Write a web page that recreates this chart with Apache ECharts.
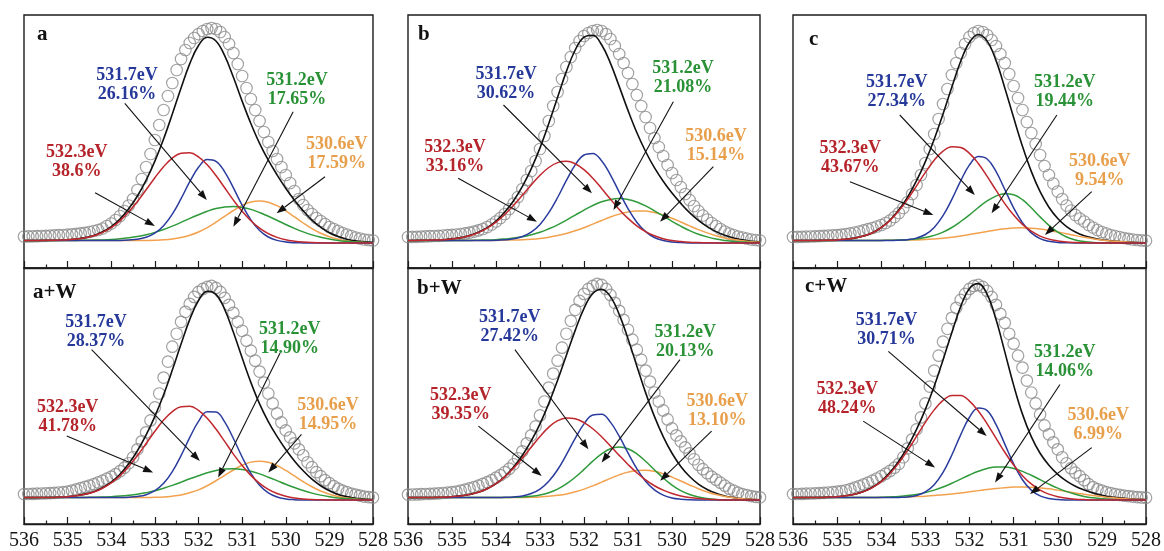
<!DOCTYPE html>
<html>
<head>
<meta charset="utf-8">
<title>O 1s XPS fits</title>
<script src="https://cdn.jsdelivr.net/npm/echarts@6/dist/echarts.min.js"></script>
<style>
  html, body { margin: 0; padding: 0; background: #ffffff; }
  #chart { width: 1164px; height: 551px; }
</style>
</head>
<body>
<div id="chart"></div>
<script>
// ---- binding-energy sampling (eV) ----
const scanEnergy = [
  536,535.9,535.8,535.7,535.6,535.5,535.4,535.3,535.2,535.1,
  535,534.9,534.8,534.7,534.6,534.5,534.4,534.3,534.2,534.1,
  534,533.9,533.8,533.7,533.6,533.5,533.4,533.3,533.2,533.1,
  533,532.9,532.8,532.7,532.6,532.5,532.4,532.3,532.2,532.1,
  532,531.9,531.8,531.7,531.6,531.5,531.4,531.3,531.2,531.1,
  531,530.9,530.8,530.7,530.6,530.5,530.4,530.3,530.2,530.1,
  530,529.9,529.8,529.7,529.6,529.5,529.4,529.3,529.2,529.1,
  529,528.9,528.8,528.7,528.6,528.5,528.4,528.3,528.2,528.1,
  528
];
const fitEnergy = [
  536,535.8,535.6,535.4,535.2,535,534.8,534.6,534.4,534.2,
  534,533.8,533.6,533.4,533.2,533,532.8,532.6,532.4,532.2,
  532,531.8,531.6,531.4,531.2,531,530.8,530.6,530.4,530.2,
  530,529.8,529.6,529.4,529.2,529,528.8,528.6,528.4,528.2,
  528
];
// Shirley-type background under the fitted components
const shirleyBg = [2.5,2.5,2.5,2.5,2.5,2.5,2.5,2.5,2.5,2.5,2.5,2.5,2.5,2.4,2.3,2.2,2.1,1.9,1.7,1.5,1.2,1.0,0.8,0.6,0.4,0.3,0.2,0.1,0,0,0,0,0,0,0,0,0,0,0,0,0];

// ---- sample a ----
const scanA = [6.5,6.6,6.7,6.8,7.0,7.2,7.4,7.6,7.8,8.0,8.3,8.7,9.1,9.6,10.2,11,12,13,14.5,17,19.5,23,27,32,37.5,44,53,64,76,89,103,118,133,147,160,173,184,193,200,205,209,212,214,215,214,211,206,199,190,179,167,155,144,133,122,111,101,92,84,76,68,60,52,44,38,33,29,25,22,19,16,14,12,10,8.5,7,5.5,4.5,3.5,3,2.5];
const peak5323A = [0,0,0.1,0.2,0.4,0.7,1.4,2.7,4.7,8.1,12.9,19.6,28.5,39.1,50.9,63.1,74.2,83.0,88.0,88.7,84.9,77.2,66.7,54.6,42.5,31.4,22.1,14.7,9.3,5.6,3.2,1.8,0.9,0.4,0.2,0,0,0,0,0,0];
const peak5317A = [0,0,0,0,0,0,0,0,0,0,0,0.1,0.5,1.3,3.4,7.6,15.2,27.0,42.6,59.8,74.5,82.4,80.9,70.6,54.7,37.6,23.0,12.4,6.0,2.6,1.0,0.3,0.1,0,0,0,0,0,0,0,0];
const peak5312A = [0,0,0,0,0,0,0.1,0.2,0.4,0.6,1.0,1.7,2.7,4.1,6.0,8.4,11.4,15.0,18.9,23.1,27.1,30.7,33.6,35.4,36.0,35.3,33.4,30.4,26.7,22.7,18.5,14.6,11.1,8.1,5.8,3.9,2.6,1.7,1.0,0.6,0.3];
const peak5306A = [0,0,0,0,0,0,0,0,0,0,0,0,0,0.1,0.3,0.6,1.1,2.1,3.8,6.3,9.8,14.4,20.0,26.1,32.1,37.3,40.8,42.0,40.8,37.3,32.1,26.1,20.0,14.4,9.8,6.3,3.8,2.1,1.1,0.6,0.3];
const shareA = ['38.6%','26.16%','17.65%','17.59%'];

// ---- sample b ----
const scanB = [6.0,6.1,6.2,6.4,6.6,6.8,7.0,7.2,7.5,7.8,8.1,8.5,9.0,9.6,10.4,11.4,12.6,14,16,18.5,21.5,25,29,34,39.5,46,54,63,72,82,94,107,122,137,151,164,176,186,195,202,207,210,212,213,212,209,204,197,189,180,170,159,148,137,126,115,105,96,87,78,70,63,56,49,43,37,32,27.5,23.5,20,17,14,11.5,9.5,8,6.5,5.5,4.5,3.5,3,2.5];
const peak5323B = [0,0.1,0.2,0.4,0.8,1.6,2.8,4.8,7.9,12.3,18.3,26.0,35.2,45.4,55.8,65.6,73.4,78.5,80.0,77.8,72.1,63.8,53.8,43.3,33.2,24.3,17.0,11.3,7.2,4.3,2.5,1.4,0.7,0.4,0.2,0.1,0,0,0,0,0];
const peak5317B = [0,0,0,0,0,0,0,0,0,0,0.2,0.7,1.7,4.1,8.6,16.4,28.2,43.6,60.9,76.6,86.8,88.6,81.5,67.6,50.5,34.0,20.6,11.3,5.5,2.5,1.0,0.4,0.1,0,0,0,0,0,0,0,0];
const peak5312B = [0,0,0,0,0,0,0.1,0.1,0.3,0.5,0.8,1.5,2.4,3.8,5.9,8.5,12.1,16.3,21.2,26.4,31.7,36.5,40.4,43.0,44.0,43.2,40.8,37.0,32.2,27.0,21.7,16.8,12.4,8.8,6.1,4.0,2.6,1.5,0.9,0.5,0.3];
const peak5306B = [0,0,0,0,0,0,0,0,0,0,0.1,0.3,0.5,0.9,1.5,2.4,3.7,5.5,7.8,10.7,14.1,17.9,21.7,25.4,28.5,30.8,31.9,31.8,30.4,27.9,24.7,21.0,17.1,13.4,10.1,7.3,5.1,3.4,2.2,1.3,0.8];
const shareB = ['33.16%','30.62%','21.08%','15.14%'];

// ---- sample c ----
const scanC = [6.0,6.1,6.2,6.3,6.5,6.7,6.9,7.1,7.3,7.6,7.9,8.4,9.0,9.7,10.5,11.5,12.6,13.8,15,16.5,18,20,22.5,26,30,35,41,49,58,68,80,94,109,124,139,154,168,180,190,199,206,210,212,211,208,203,197,189,180,169,157,145,133,121,110,99,88,77,68,59.5,51.5,44,37.5,32.5,28,24.5,21.5,18,15.5,13,11,9.5,8,7,6,5,4.2,3.5,3,2.6,2.3];
const peak5323C = [0,0,0,0.1,0.3,0.6,1.2,2.4,4.5,7.8,12.8,20.1,29.7,41.5,54.9,68.4,80.7,89.9,94.5,94.0,88.4,78.5,65.8,52.2,39.0,27.6,18.4,11.7,6.9,3.9,2.1,1.0,0.5,0.2,0.1,0,0,0,0,0,0];
const peak5317C = [0,0,0,0,0,0,0,0,0,0,0,0,0.3,0.9,2.6,6.3,13.5,25.4,41.9,60.6,76.9,85.5,83.2,71.0,53.1,34.8,20.0,10.0,4.4,1.7,0.6,0.2,0,0,0,0,0,0,0,0,0];
const peak5312C = [0,0,0,0,0,0,0,0,0,0,0.1,0.2,0.4,0.9,1.7,3.2,5.5,9.0,13.8,20.0,27.0,34.5,41.3,46.3,48.8,48.0,43.1,35.1,26.1,17.6,10.8,6.0,3.1,1.4,0.6,0.2,0.1,0,0,0,0];
const peak5306C = [0,0,0,0,0,0,0,0,0,0,0.1,0.2,0.3,0.5,0.8,1.3,2.0,2.9,4.1,5.6,7.2,9.0,10.8,12.5,13.8,14.7,15.0,14.7,13.9,12.6,11.0,9.2,7.4,5.7,4.2,3.0,2.1,1.4,0.9,0.5,0.3];
const shareC = ['43.67%','27.34%','19.44%','9.54%'];

// ---- sample a+W ----
const scanAW = [6.0,6.1,6.2,6.4,6.6,6.8,7.0,7.3,7.6,8.0,8.5,9.5,10.7,12,13.2,14.5,16,17.7,19.5,21.5,23.5,26,29,32.5,37,43,51,59,68,80,93,107,123,139,154,167,179,189,197,204,209,212,214,215,213,209,203,196,188,179,170,160,150,140,129,118,107,97,87,78,70,63,57,51,45,38,33,28,24,20,17,14,11.5,9.5,8,6.5,5.5,4.5,3.5,3,2.5];
const peak5323AW = [0,0,0.1,0.2,0.5,0.9,1.8,3.3,5.7,9.4,14.7,21.9,31.2,42.3,54.5,66.9,78.2,87.0,92.1,92.7,88.9,81.2,70.5,58.3,45.8,34.4,24.6,16.6,10.7,6.6,3.9,2.1,1.1,0.6,0.3,0.1,0,0,0,0,0];
const peak5317AW = [0,0,0,0,0,0,0,0,0,0,0,0.1,0.4,1.2,3.1,7.2,14.7,26.7,43.0,61.4,77.9,87.7,87.7,77.9,61.4,43.0,26.7,14.7,7.2,3.1,1.2,0.4,0.1,0,0,0,0,0,0,0,0];
const peak5312AW = [0,0,0,0,0,0,0.1,0.2,0.3,0.5,0.9,1.5,2.3,3.5,5.2,7.2,9.8,12.9,16.3,19.9,23.3,26.4,28.9,30.5,31.0,30.4,28.8,26.2,23.0,19.5,15.9,12.6,9.6,7.0,5.0,3.4,2.2,1.5,0.9,0.5,0.3];
const peak5306AW = [0,0,0,0,0,0,0,0,0,0,0,0,0,0.1,0.3,0.6,1.0,2.0,3.5,5.9,9.1,13.4,18.6,24.2,29.8,34.7,37.9,39.0,37.9,34.7,29.8,24.2,18.6,13.4,9.1,5.9,3.5,2.0,1.0,0.6,0.3];
const shareAW = ['41.78%','28.37%','14.90%','14.95%'];

// ---- sample b+W ----
const scanBW = [5.5,5.6,5.7,5.9,6.1,6.3,6.5,6.8,7.1,7.5,8.0,8.6,9.5,10.5,11.7,13,14.5,16.2,18,20,22.5,25,28,31.5,36,42,49,57,65,74,85,99,113,127,140,153,167,180,191,200,207,212,215,217,216,212,206,198,190,181,171,161,151,141,130,119,108,99,90,81,72,65,59,53,47,41,35.5,31,27,23.5,20.5,17.5,14.5,11.5,9.5,7.5,6,5,4,3.3,2.8];
const peak5323BW = [0,0,0.1,0.2,0.4,0.9,1.7,3.1,5.3,8.9,14.0,20.8,29.6,39.8,50.8,61.6,71.1,77.8,80.8,80.2,76.6,70.6,62.8,53.8,44.5,35.5,27.2,20.2,14.4,10.0,6.6,4.2,2.6,1.5,0.9,0.5,0.2,0.1,0,0,0];
const peak5317BW = [0,0,0,0,0,0,0,0,0,0,0,0.3,0.7,1.8,4.3,8.9,16.9,28.6,43.9,60.5,75.3,84.4,85.3,77.7,63.7,47.1,31.4,18.8,10.2,5.0,2.2,0.9,0.3,0.1,0,0,0,0,0,0,0];
const peak5312BW = [0,0,0,0,0,0,0,0,0,0,0,0.1,0.3,0.7,1.5,2.9,5.3,9.1,14.5,21.4,29.6,38.1,45.6,51.0,53.0,51.3,46.3,38.9,30.5,22.2,15.1,9.5,5.6,3.1,1.6,0.7,0.3,0.1,0,0,0];
const peak5306BW = [0,0,0,0,0,0,0,0,0,0,0,0,0.1,0.3,0.5,1.0,1.7,2.9,4.5,6.8,9.8,13.3,17.2,21.2,24.9,27.8,29.6,29.9,28.9,26.5,23.1,19.2,15.2,11.4,8.2,5.6,3.6,2.3,1.3,0.8,0.4];
const shareBW = ['39.35%','27.42%','20.13%','13.10%'];

// ---- sample c+W ----
const scanCW = [6.0,6.1,6.2,6.4,6.6,6.8,7.0,7.3,7.6,8.0,8.5,9.1,9.9,11,12.5,14,15.7,17.5,19.5,21.7,24,26.5,29.3,32.5,36.5,43,52,61,71,83,97,114,130,145,159,172,183,193,201,207,212,215,216,214,210,204,196,187,178,167,157,145,133,120,108,97,86,75,66,58,51,43,37,32,27.5,24,20,16,13,11,9.5,8,7,6,5.2,4.5,4,3.5,3,2.7,2.4];
const peak5323CW = [0,0,0.1,0.2,0.5,0.9,1.8,3.4,6.0,10.1,16.1,24.3,34.9,47.6,61.7,75.8,88.5,98.2,103.4,103.4,98.2,88.5,75.8,61.7,47.6,34.9,24.3,16.1,10.1,6.0,3.4,1.8,0.9,0.5,0.2,0.1,0,0,0,0,0];
const peak5317CW = [0,0,0,0,0,0,0,0,0,0,0,0,0.2,0.8,2.4,6.1,13.4,25.9,43.6,64.0,82.0,91.4,89.0,75.4,55.8,36.0,20.2,9.9,4.2,1.6,0.5,0.1,0,0,0,0,0,0,0,0,0];
const peak5312CW = [0,0,0,0,0,0,0,0,0.1,0.2,0.3,0.7,1.2,2.1,3.4,5.3,7.9,11.3,15.2,19.6,24.0,27.9,31.0,32.7,32.9,31.4,28.6,24.8,20.5,16.1,12.0,8.5,5.8,3.7,2.3,1.3,0.7,0.4,0.2,0.1,0];
const peak5306CW = [0,0,0,0,0,0,0,0,0,0.1,0.2,0.3,0.5,0.8,1.2,1.7,2.4,3.4,4.4,5.7,7.1,8.5,9.9,11.1,12.1,12.8,13.0,12.8,12.2,11.3,10.0,8.7,7.2,5.9,4.6,3.5,2.5,1.8,1.2,0.8,0.5];
const shareCW = ['48.24%','30.71%','14.06%','6.99%'];

// component names, in the order 532.3 / 531.7 / 531.2 / 530.6 eV
const peakLabels = ['532.3eV','531.7eV','531.2eV','530.6eV'];
const panelTitles = ['a','b','c','a+W','b+W','c+W'];

// ---- styling ----
const SERIF = '"Liberation Serif","Times New Roman",Times,serif';
const FRAME = '#1c1c1c';
const LINE_COLORS = ['#c0282e', '#2a3c9e', '#2f9a3a', '#f2a24e'];
const TEXT_COLORS = ['#b5242a', '#26399a', '#2a9236', '#e89f4c'];

const panels = [
  { scan: scanA,  peaks: [peak5323A,  peak5317A,  peak5312A,  peak5306A],  shares: shareA },
  { scan: scanB,  peaks: [peak5323B,  peak5317B,  peak5312B,  peak5306B],  shares: shareB },
  { scan: scanC,  peaks: [peak5323C,  peak5317C,  peak5312C,  peak5306C],  shares: shareC },
  { scan: scanAW, peaks: [peak5323AW, peak5317AW, peak5312AW, peak5306AW], shares: shareAW },
  { scan: scanBW, peaks: [peak5323BW, peak5317BW, peak5312BW, peak5306BW], shares: shareBW },
  { scan: scanCW, peaks: [peak5323CW, peak5317CW, peak5312CW, peak5306CW], shares: shareCW }
];

// plot frames (pixels) and intensity window of each panel
const frames = [
  { left: 24,  top: 15,  width: 349, height: 253, vMin: -25, vMax: 228, labels: false, tx: 13, ty: 20 },
  { left: 408, top: 15,  width: 352, height: 253, vMin: -25, vMax: 228, labels: false, tx: 10, ty: 20 },
  { left: 793, top: 15,  width: 353, height: 253, vMin: -25, vMax: 228, labels: false, tx: 16, ty: 25 },
  { left: 24,  top: 268, width: 349, height: 257, vMin: -24, vMax: 233, labels: true,  tx: 9,  ty: 25 },
  { left: 408, top: 268, width: 352, height: 257, vMin: -24, vMax: 233, labels: true,  tx: 9,  ty: 21 },
  { left: 793, top: 268, width: 353, height: 257, vMin: -24, vMax: 233, labels: true,  tx: 12, ty: 19 }
];

// annotation placement in data units [energy, intensity]; arrows: [E1, v1, E2, v2] (head at E2, v2)
const notes = [
  { text: [[534.79, 81], [533.64, 158], [529.74, 153], [528.83, 89]],
    arrows: [[534.37, 50.3, 533.0, 17], [533.69, 139.7, 531.81, 43], [529.83, 131.3, 531.2, 16.3], [529.1, 66.3, 530.21, 29.7]] },
  { text: [[534.93, 86], [533.77, 158.9], [529.75, 165], [529.0, 97.6]],
    arrows: [[534.86, 64.7, 533.07, 21.3], [533.83, 138, 531.82, 49.7], [529.97, 141.3, 531.33, 33], [529.06, 76.3, 530.27, 21.3]] },
  { text: [[534.70, 84.7], [533.65, 151.6], [529.84, 151.6], [529.05, 71.7]],
    arrows: [[534.71, 61.3, 532.82, 28], [533.58, 128, 531.88, 48], [530.02, 128, 531.5, 29.7], [529.23, 51.3, 530.29, 8]] },
  { text: [[535.0, 83.5], [534.35, 169], [529.91, 161.5], [529.03, 85.2]],
    arrows: [[535.02, 64.3, 533.04, 27.7], [534.45, 151, 531.97, 39.3], [530.13, 147.7, 531.55, 22.7], [529.64, 66, 530.4, 27.7]] },
  { text: [[534.80, 95.6], [533.69, 173.9], [529.7, 158.9], [528.97, 89.3]],
    arrows: [[534.4, 74.3, 532.96, 24.3], [533.57, 151, 531.9, 51], [529.82, 141, 531.6, 37.7], [529.1, 69.3, 530.27, 19.3]] },
  { text: [[534.77, 102], [533.88, 171], [529.84, 138.9], [529.08, 75.1]],
    arrows: [[534.41, 79.3, 532.78, 32.7], [533.84, 149.3, 531.61, 64.3], [529.95, 116, 531.42, 17.7], [529.23, 52.7, 530.63, 6]] }
];

const chart = echarts.init(document.getElementById('chart'));
const option = { animation: false, backgroundColor: '#ffffff', grid: [], xAxis: [], yAxis: [], series: [] };

frames.forEach((f, i) => {
  option.grid.push({
    left: f.left, top: f.top, width: f.width, height: f.height,
    show: true, borderColor: FRAME, borderWidth: 1.4, backgroundColor: 'transparent'
  });
  option.xAxis.push({
    gridIndex: i, type: 'value', min: 528, max: 536, interval: 1, inverse: true,
    axisLine: { show: true, onZero: false, lineStyle: { color: FRAME, width: 1.4 } },
    axisTick: { show: true, inside: true, length: 7, lineStyle: { color: FRAME, width: 1.2 } },
    minorTick: { show: true, splitNumber: 2, length: 3.5, lineStyle: { color: FRAME, width: 1.2 } },
    splitLine: { show: false },
    axisLabel: {
      show: f.labels, margin: 7, color: '#151515', fontFamily: SERIF, fontSize: 20,
      showMinLabel: true, showMaxLabel: true
    }
  });
  option.yAxis.push({ gridIndex: i, type: 'value', min: f.vMin, max: f.vMax, show: false });
});

panels.forEach((p, i) => {
  // measured spectrum: open circles
  option.series.push({
    type: 'scatter', xAxisIndex: i, yAxisIndex: i, silent: true,
    symbol: 'circle', symbolSize: 11.5,
    itemStyle: { color: 'rgba(255,255,255,0)', borderColor: '#8a8a8a', borderWidth: 1.2 },
    data: scanEnergy.map((e, k) => [e, p.scan[k]])
  });
  // overall fit envelope = background + all components
  option.series.push({
    type: 'line', xAxisIndex: i, yAxisIndex: i, silent: true, smooth: 0.4,
    showSymbol: false, lineStyle: { color: '#111111', width: 1.6 },
    data: fitEnergy.map((e, k) => [e, shirleyBg[k] + p.peaks.reduce((s, arr) => s + arr[k], 0)])
  });
  // components, drawn 530.6 first so the 532.3 eV curve ends on top
  [3, 2, 1, 0].forEach(c => {
    option.series.push({
      type: 'line', xAxisIndex: i, yAxisIndex: i, silent: true, smooth: 0.4,
      showSymbol: false, lineStyle: { color: LINE_COLORS[c], width: 1.5 },
      data: fitEnergy.map((e, k) => [e, shirleyBg[k] + p.peaks[c][k]])
    });
  });
});

chart.setOption(option);

// labels and arrows, placed through each panel's own axes
const graphics = [];
frames.forEach((f, i) => {
  graphics.push({
    type: 'text', z: 100, x: f.left + f.tx, y: f.top + f.ty,
    style: {
      text: panelTitles[i], fill: '#111111', font: 'bold 21px ' + SERIF,
      align: 'left', verticalAlign: 'middle', textAlign: 'left', textVerticalAlign: 'middle'
    }
  });
  notes[i].arrows.forEach(a => {
    const p1 = chart.convertToPixel({ gridIndex: i }, [a[0], a[1]]);
    const p2 = chart.convertToPixel({ gridIndex: i }, [a[2], a[3]]);
    const dx = p2[0] - p1[0], dy = p2[1] - p1[1];
    const len = Math.hypot(dx, dy) || 1;
    const ux = dx / len, uy = dy / len;
    const headLen = 10, headHalf = 3.6;
    const bx = p2[0] - ux * headLen, by = p2[1] - uy * headLen;
    graphics.push({
      type: 'line', z: 100, silent: true,
      shape: { x1: p1[0], y1: p1[1], x2: bx, y2: by },
      style: { stroke: '#111111', lineWidth: 1.1 }
    });
    graphics.push({
      type: 'polygon', z: 100, silent: true,
      shape: { points: [[p2[0], p2[1]], [bx - uy * headHalf, by + ux * headHalf], [bx + uy * headHalf, by - ux * headHalf]] },
      style: { fill: '#111111' }
    });
  });
  notes[i].text.forEach((t, c) => {
    const pt = chart.convertToPixel({ gridIndex: i }, t);
    graphics.push({
      type: 'text', z: 101, x: pt[0], y: pt[1],
      style: {
        text: peakLabels[c] + '\n' + panels[i].shares[c],
        fill: TEXT_COLORS[c], font: 'bold 18px ' + SERIF, lineHeight: 19,
        align: 'center', verticalAlign: 'middle', textAlign: 'center', textVerticalAlign: 'middle'
      }
    });
  });
});
chart.setOption({ graphic: { elements: graphics } });
</script>
</body>
</html>
